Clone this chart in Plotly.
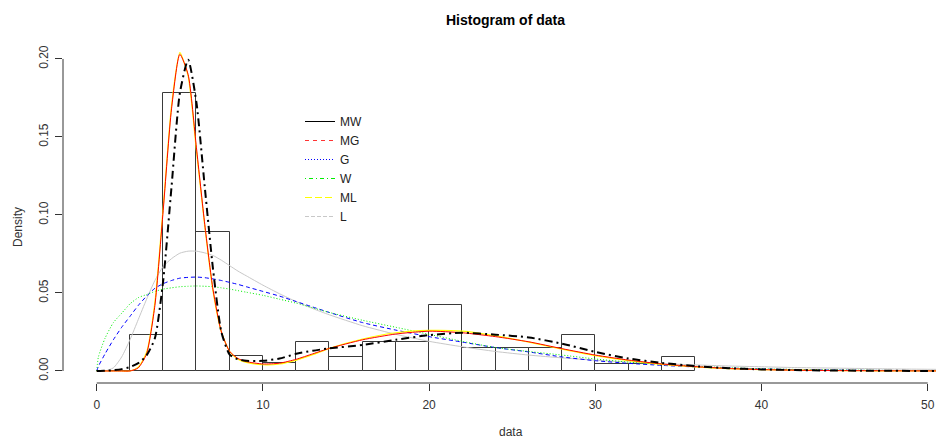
import numpy as np
import plotly.graph_objects as go

# ---------------- data ----------------
bin_edges = [0, 2, 4, 6, 8, 10, 12, 14, 16, 18, 20, 22, 24, 26, 28, 30, 32, 34, 36]
hist_density = [0.0, 0.023, 0.178, 0.089, 0.0095, 0.0050, 0.0185, 0.0092, 0.0185,
                0.0185, 0.042, 0.0145, 0.0145, 0.0145, 0.0230, 0.0045, 0.0045, 0.0092]

x_grid = [0, 0.1, 0.5, 1, 1.5, 2, 2.5, 3, 3.5, 4, 4.5, 5, 5.5, 6, 6.5, 7, 7.5, 8, 8.5, 9,
          10, 11, 12, 13, 14, 16, 18, 20, 22, 24, 26, 28, 30, 32, 34, 36, 38, 40, 42, 44,
          46, 48, 50, 51]

dens_MW = [0.0, 0.0, 0.0002, 0.0005, 0.0012, 0.0025, 0.005, 0.010, 0.021, 0.058, 0.118,
           0.178, 0.1995, 0.172, 0.118, 0.065, 0.025, 0.0105, 0.0075, 0.0065,
           0.0065, 0.008, 0.011, 0.013, 0.0145, 0.0167, 0.020, 0.023, 0.0245, 0.0233,
           0.0215, 0.0175, 0.0122, 0.008, 0.0052, 0.0031, 0.0018, 0.001, 0.0006, 0.0003,
           0.0002, 0.0001, 0.0, 0.0]
dens_MG = [0.0, 0.0, 0.0, 0.0, 0.0, 0.0, 0.002, 0.011, 0.042, 0.103, 0.168,
           0.203, 0.19, 0.143, 0.094, 0.052, 0.025, 0.0125, 0.008, 0.006,
           0.0045, 0.005, 0.0075, 0.011, 0.0145, 0.020, 0.0237, 0.0255, 0.0245, 0.022,
           0.0187, 0.0143, 0.0102, 0.007, 0.0045, 0.0028, 0.0016, 0.0009, 0.0005, 0.0003,
           0.0002, 0.0001, 0.00005, 0.0]
dens_G = [0.0, 0.003, 0.011, 0.020, 0.028, 0.035, 0.042, 0.048, 0.053, 0.056, 0.058,
          0.0595, 0.060, 0.0602, 0.0598, 0.059, 0.058, 0.0568, 0.0555, 0.054,
          0.051, 0.048, 0.0445, 0.041, 0.0375, 0.031, 0.0262, 0.022, 0.0185, 0.015,
          0.0122, 0.009, 0.0066, 0.0049, 0.0036, 0.0026, 0.0019, 0.0013, 0.0009, 0.0006,
          0.0004, 0.0003, 0.0002, 0.0002]
dens_W = [0.0, 0.009, 0.021, 0.031, 0.037, 0.043, 0.047, 0.049, 0.051, 0.0525, 0.0533,
          0.054, 0.0543, 0.0545, 0.0543, 0.054, 0.0533, 0.0525, 0.0515, 0.0505,
          0.0485, 0.046, 0.0435, 0.0405, 0.0375, 0.0325, 0.028, 0.0235, 0.019, 0.015,
          0.0125, 0.0102, 0.0077, 0.0057, 0.0042, 0.003, 0.0021, 0.0014, 0.001, 0.0007,
          0.0005, 0.0003, 0.0002, 0.0002]
dens_ML = [0.0, 0.0, 0.0, 0.0, 0.0, 0.0, 0.0025, 0.012, 0.044, 0.105, 0.170,
           0.204, 0.189, 0.141, 0.093, 0.051, 0.025, 0.0125, 0.0075, 0.0055,
           0.004, 0.0045, 0.007, 0.0105, 0.0145, 0.0205, 0.0245, 0.026, 0.0255, 0.0225,
           0.0185, 0.014, 0.0098, 0.0066, 0.0042, 0.0026, 0.0015, 0.0009, 0.0005, 0.0003,
           0.00015, 0.0001, 0.00005, 0.0]
dens_L = [0.0, 0.0, 0.0, 0.002, 0.009, 0.020, 0.033, 0.046, 0.058, 0.067, 0.072,
          0.0755, 0.0768, 0.0768, 0.0757, 0.074, 0.071, 0.0675, 0.064, 0.061,
          0.055, 0.0495, 0.0445, 0.040, 0.036, 0.029, 0.0235, 0.019, 0.0155, 0.0125,
          0.0102, 0.0084, 0.0069, 0.0057, 0.0047, 0.0039, 0.0032, 0.0027, 0.0022, 0.0019,
          0.0016, 0.0013, 0.0011, 0.001]

x_ticks = [0, 10, 20, 30, 40, 50]
y_ticks = [0.00, 0.05, 0.10, 0.15, 0.20]
legend_names = ["MW", "MG", "G", "W", "ML", "L"]

# ---------------- figure ----------------
FONT = "Liberation Sans, Arial, Helvetica, sans-serif"
AX = "#333333"

edges = np.array(bin_edges, dtype=float)
centers = (edges[:-1] + edges[1:]) / 2
widths = np.diff(edges)

fig = go.Figure()
fig.add_trace(go.Bar(
    x=centers, y=hist_density, width=widths,
    marker=dict(color="rgba(0,0,0,0)", line=dict(color="#3a3a3a", width=1)),
    showlegend=False, hoverinfo="skip"))

curve_styles = [
    (dens_L, dict(color="#c8c8c8", width=1)),
    (dens_G, dict(color="#0000ff", width=1, dash="4px,3px")),
    (dens_W, dict(color="#00ee00", width=1, dash="1px,2px")),
    (dens_ML, dict(color="#ffff00", width=1.2)),
    (dens_MG, dict(color="#ff0000", width=1)),
    (dens_MW, dict(color="#000000", width=2, dash="8px,4px,2px,4px")),
]
for ys, ln in curve_styles:
    fig.add_trace(go.Scatter(x=x_grid, y=ys, mode="lines",
                             line=dict(shape="spline", smoothing=0.6, **ln),
                             showlegend=False, hoverinfo="skip"))

legend_styles = [
    dict(color="#000000", width=1),
    dict(color="#ff3333", width=1.2, dash="4px,4px"),
    dict(color="#0000ff", width=1.2, dash="1px,2px"),
    dict(color="#00ee00", width=1.2, dash="1px,3px,4px,3px"),
    dict(color="#ffff00", width=1.2, dash="7px,3px"),
    dict(color="#c8c8c8", width=1.2, dash="4px,2px"),
]
for name, ln in zip(legend_names, legend_styles):
    fig.add_trace(go.Scatter(x=[None], y=[None], mode="lines", name=name, line=ln))

W, H = 936, 440
ml, mr, mt, mb = 63, 0, 51, 57
pw = W - ml - mr
ph = H - mt - mb

def px_x(p):
    return (p - ml) / pw

def px_y(p):
    return (H - mb - p) / ph

fig.update_layout(
    width=W, height=H,
    margin=dict(l=ml, r=mr, t=mt, b=mb),
    plot_bgcolor="white", paper_bgcolor="white",
    font=dict(family=FONT, size=12, color=AX),
    bargap=0,
    xaxis=dict(range=[-2.03, 50.5], showgrid=False, zeroline=False, showline=False,
               tickmode="array", tickvals=x_ticks, ticktext=[str(v) for v in x_ticks],
               ticks="outside", ticklen=7, tickwidth=1, tickcolor=AX,
               ticklabelstandoff=4,
               tickfont=dict(family=FONT, size=12, color=AX)),
    yaxis=dict(range=[-0.0077, 0.2051], showgrid=False, zeroline=False, showline=False,
               tickmode="array", tickvals=y_ticks, ticktext=[f"{v:.2f}" for v in y_ticks],
               ticks="outside", ticklen=7, tickwidth=1, tickcolor=AX, tickangle=-90,
               ticklabelstandoff=2,
               tickfont=dict(family=FONT, size=12, color=AX)),
    legend=dict(x=px_x(300), y=px_y(107), xanchor="left", yanchor="top",
                bgcolor="rgba(0,0,0,0)", borderwidth=0,
                font=dict(family=FONT, size=12, color="#222222"),
                itemclick=False, itemdoubleclick=False),
    shapes=[
        dict(type="line", xref="x", yref="paper", x0=min(x_ticks), x1=max(x_ticks),
             y0=0, y1=0, line=dict(color=AX, width=1)),
        dict(type="line", xref="paper", yref="y", x0=0, x1=0,
             y0=min(y_ticks), y1=max(y_ticks), line=dict(color=AX, width=1)),
    ],
    annotations=[
        dict(text="<b>Histogram of data</b>", xref="paper", yref="paper",
             x=px_x(505), y=px_y(20), xanchor="center", yanchor="middle",
             showarrow=False, font=dict(family=FONT, size=14, color="#000000")),
        dict(text="data", xref="paper", yref="paper",
             x=px_x(511), y=px_y(432), xanchor="center", yanchor="middle",
             showarrow=False, font=dict(family=FONT, size=12, color=AX)),
        dict(text="Density", xref="paper", yref="paper", textangle=-90,
             x=px_x(18), y=px_y(227), xanchor="center", yanchor="middle",
             showarrow=False, font=dict(family=FONT, size=12, color=AX)),
    ],
)

fig.write_html("out.html", config={"displayModeBar": False},
               post_script="document.body.style.margin='0px';"
                           "document.body.style.overflow='hidden';")
